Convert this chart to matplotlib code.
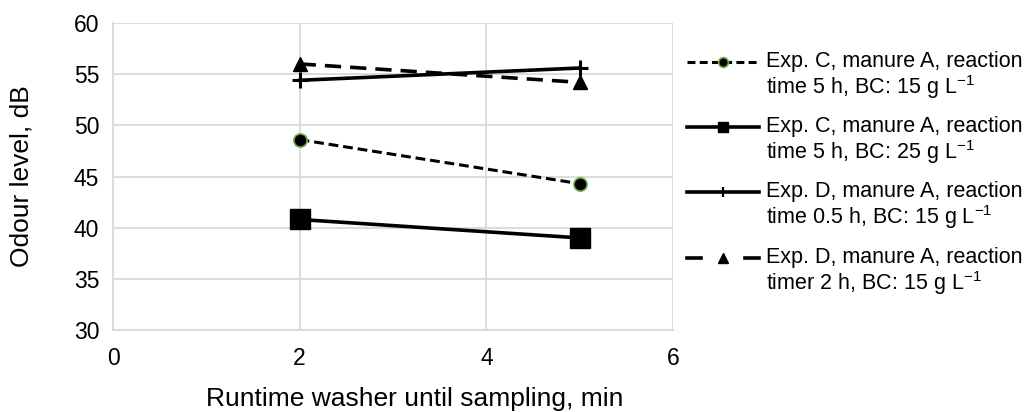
import matplotlib
matplotlib.use("Agg")
import matplotlib.pyplot as plt

# ---------- Data ----------
runtime_min = [2, 5]
c_15g = [48.6, 44.3]      # Exp. C, reaction time 5 h, BC 15 g/L
c_25g = [40.8, 39.0]      # Exp. C, reaction time 5 h, BC 25 g/L
d_05h = [54.4, 55.6]      # Exp. D, reaction time 0.5 h
d_2h = [56.0, 54.2]       # Exp. D, reaction timer 2 h

labels = [
    "Exp. C, manure A, reaction\ntime 5 h, BC: 15 g L$^{-1}$",
    "Exp. C, manure A, reaction\ntime 5 h, BC: 25 g L$^{-1}$",
    "Exp. D, manure A, reaction\ntime 0.5 h, BC: 15 g L$^{-1}$",
    "Exp. D, manure A, reaction\ntimer 2 h, BC: 15 g L$^{-1}$",
]
x_ticks = [0, 2, 4, 6]
y_ticks = [30, 35, 40, 45, 50, 55, 60]

plt.rcParams.update({
    "font.family": ["Liberation Sans", "DejaVu Sans"],
    "mathtext.fontset": "custom",
    "mathtext.rm": "Liberation Sans",
    "mathtext.it": "Liberation Sans:italic",
    "mathtext.default": "regular",
})

W, H = 1030, 412
fig = plt.figure(figsize=(W / 100, H / 100), dpi=100)
ax = fig.add_axes([113 / W, 1 - 330 / H, (673 - 113) / W, (330 - 23) / H])

GREEN = "#70ad47"
line_styles = [
    dict(color="black", lw=2.2, dashes=(3.2, 1.6)),
    dict(color="black", lw=2.6, ls="-"),
    dict(color="black", lw=2.6, ls="-"),
    dict(color="black", lw=2.6, dashes=(4.5, 2.5)),
]
marker_styles = [
    dict(marker="o", ms=9.5, mfc="black", mec=GREEN, mew=1.2),
    dict(marker="s", ms=14, mfc="black", mec="black"),
    dict(marker="+", ms=11, mew=2.2, mec="black"),
    dict(marker="^", ms=10, mfc="black", mec="black"),
]
series = [c_15g, c_25g, d_05h, d_2h]
for ys, ls_, mk in zip(series, line_styles, marker_styles):
    ax.plot(runtime_min, ys, **ls_, **mk, zorder=3)

ax.set_xlim(0, 6)
ax.set_ylim(30, 60)
ax.set_xticks(x_ticks)
ax.set_yticks(y_ticks)
ax.grid(True, color="#d9d9d9", lw=1.3)
ax.set_axisbelow(True)
for s in ["top", "right"]:
    ax.spines[s].set_visible(False)
for s in ["left", "bottom"]:
    ax.spines[s].set_color("#d9d9d9")
    ax.spines[s].set_linewidth(1.3)
ax.tick_params(length=0, labelsize=16.5)
ax.tick_params(axis="x", pad=12)
ax.tick_params(axis="y", pad=10)

fig.text(415 / W, 1 - 399 / H, "Runtime washer until sampling, min",
         ha="center", va="center", fontsize=19)
fig.text(22 / W, 1 - 176 / H, "Odour level, dB", rotation=90,
         ha="center", va="center", fontsize=19)

# ---------- Manual legend (handle aligned with first text line) ----------
lax = fig.add_axes([0, 0, 1, 1])
lax.set_xlim(0, W)
lax.set_ylim(H, 0)
lax.axis("off")
leg_y = [62, 127, 192, 258]
leg_lines = [
    dict(color="black", lw=2.2, dashes=(2.6, 1.4)),
    dict(color="black", lw=2.6, ls="-"),
    dict(color="black", lw=2.6, ls="-"),
    None,  # drawn as two short dashes below
]
leg_markers = [
    dict(marker="o", ms=7, mfc="black", mec=GREEN, mew=1.2),
    dict(marker="s", ms=7, mfc="black", mec="black"),
    dict(marker="|", ms=7, mew=1.6, mec="black"),
    dict(marker="^", ms=7, mfc="black", mec="black"),
]
for yy, lab, ln, mk in zip(leg_y, labels, leg_lines, leg_markers):
    if ln is None:
        lax.plot([687, 701], [yy, yy], color="black", lw=2.6)
        lax.plot([745, 759], [yy, yy], color="black", lw=2.6)
    else:
        lax.plot([687, 759], [yy, yy], **ln)
    lax.plot([723], [yy], ls="none", color="black", **mk)
    lax.text(766, yy - 11, lab, ha="left", va="top", fontsize=15.5,
             linespacing=1.05)

fig.savefig("out.png", dpi=100)
